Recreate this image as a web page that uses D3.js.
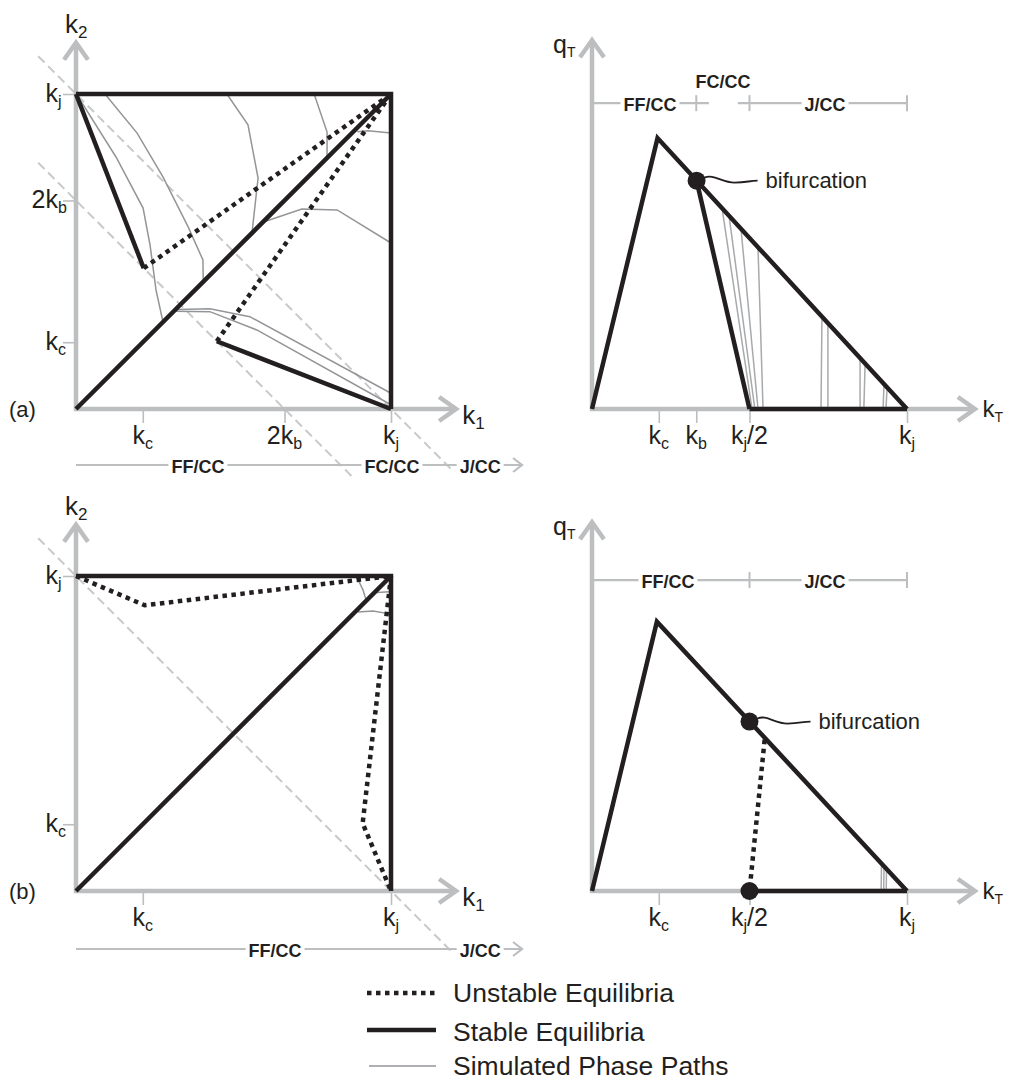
<!DOCTYPE html>
<html lang="en">
<head>
<meta charset="utf-8">
<title>Equilibria of a two-cell network</title>
<script src="https://cdn.jsdelivr.net/npm/d3@7/dist/d3.min.js"></script>
<style>
  html, body { margin: 0; padding: 0; background: #fff; }
  svg { display: block; }
  text { font-family: "Liberation Sans", Arial, Helvetica, sans-serif; fill: #231f20; }
</style>
</head>
<body>
<svg id="fig" width="1010" height="1081" viewBox="0 0 1010 1081"></svg>
<script>
// ---- characteristic densities (jam density normalised to 1) ----
const KJ = 1;
const KC = 0.212;
const KB = 0.331;

// ---- (a) cell densities k1 / k2 ----
const aBox = [[0, 1], [1, 1], [1, 0]];
const aDiagonal = [[0, 0], [1, 1]];
const aStable = [[[0, 1], [0.215, 0.447]], [[1, 0], [0.447, 0.215]]];
const aUnstable = [[[0.215, 0.447], [1, 1]], [[0.447, 0.215], [1, 1]]];
const aIsoDensity = [[[-0.12, 1.12], [1.2, -0.2]], [[-0.12, 0.782], [0.88, -0.218]]];
const aPhasePaths = [
  [[0.092, 1.0], [0.194, 0.876], [0.276, 0.737], [0.356, 0.578], [0.403, 0.473], [0.404, 0.404]],
  [[0.003, 0.997], [0.127, 0.8], [0.213, 0.638], [0.235, 0.521], [0.254, 0.378], [0.276, 0.277]],
  [[0.479, 1.0], [0.546, 0.902], [0.578, 0.733], [0.559, 0.562]],
  [[0.756, 1.0], [0.797, 0.879], [0.797, 0.797]],
  [[1.0, 0.876], [0.927, 0.883], [0.893, 0.88]],
  [[1.0, 0.527], [0.829, 0.632], [0.717, 0.635], [0.6, 0.595]],
  [[1.0, 0.05], [0.552, 0.293], [0.425, 0.318], [0.322, 0.316]],
  [[0.997, 0.015], [0.574, 0.251], [0.425, 0.309], [0.315, 0.31]]
];
const aK1Ticks = [KC, 2 * KB, KJ];
const aK1Labels = ["k_c", "2k_b", "k_j"];
const aK2Ticks = [KJ, 2 * KB, KC];
const aK2Labels = ["k_j", "2k_b", "k_c"];
const aPlaneRegimes = ["FF/CC", "FC/CC", "J/CC"];
const aPlaneRegimeAt = [0.387, 1.003, 1.283];

// ---- (a) total density kT / total flow qT ----
const aFundamental = [[0, 0], [0.208, 0.86], [1, 0]];
const aSecondBranch = [[0.332, 0.725], [0.5, 0]];
const aJamBranch = [[0.5, 0], [1, 0]];
const aBifurcation = [0.332, 0.725];
const aTrajectories = [
  [[0.413, 0.637], [0.508, 0]],
  [[0.435, 0.614], [0.517, 0]],
  [[0.473, 0.572], [0.527, 0]],
  [[0.527, 0.514], [0.543, 0]],
  [[0.730, 0.293], [0.727, 0]],
  [[0.749, 0.273], [0.749, 0]],
  [[0.851, 0.160], [0.851, 0]],
  [[0.867, 0.144], [0.863, 0]],
  [[0.927, 0.079], [0.924, 0]],
  [[0.937, 0.068], [0.933, 0]]
];
const aKTTicks = [KC, KB, KJ / 2, KJ];
const aKTLabels = ["k_c", "k_b", "k_j/2", "k_j"];
const aTotalRegimes = ["FF/CC", "FC/CC", "J/CC"];
const aTotalRegimeAt = [0.184, 0.416, 0.74];
const aTotalBounds = [KB, KJ / 2, KJ];

// ---- (b) cell densities k1 / k2 ----
const bBox = [[0, 1], [1, 1], [1, 0]];
const bDiagonal = [[0, 0], [1, 1]];
const bUnstable = [[[0, 1], [0.218, 0.907], [1, 1]], [[1, 1], [0.91, 0.215], [1, 0]]];
const bIsoDensity = [[[-0.12, 1.12], [1.2, -0.2]]];
const bPhasePaths = [
  [[0.89, 1.0], [0.911, 0.956], [0.921, 0.924]],
  [[1.0, 0.879], [0.943, 0.889], [0.895, 0.886]],
  [[0.995, 0.95], [0.955, 0.948]]
];
const bK1Ticks = [KC, KJ];
const bK1Labels = ["k_c", "k_j"];
const bK2Ticks = [KJ, KC];
const bK2Labels = ["k_j", "k_c"];
const bPlaneRegimes = ["FF/CC", "J/CC"];
const bPlaneRegimeAt = [0.632, 1.283];

// ---- (b) total density kT / total flow qT ----
const bFundamental = [[0, 0], [0.206, 0.855], [1, 0]];
const bUnstableBranch = [[0.548, 0.48], [0.5, 0]];
const bJamBranch = [[0.5, 0], [1, 0]];
const bBifurcation = [0.5, 0.538];
const bJamPoint = [0.5, 0];
const bTrajectories = [
  [[0.919, 0.087], [0.918, 0]],
  [[0.927, 0.079], [0.926, 0]],
  [[0.935, 0.070], [0.934, 0]]
];
const bKTTicks = [KC, KJ / 2, KJ];
const bKTLabels = ["k_c", "k_j/2", "k_j"];
const bTotalRegimes = ["FF/CC", "J/CC"];
const bTotalRegimeAt = [0.241, 0.74];
const bTotalBounds = [KJ / 2, KJ];

const legendLabels = ["Unstable Equilibria", "Stable Equilibria", "Simulated Phase Paths"];
const bifurcationLabel = "bifurcation";

// ---- drawing ----
const svg = d3.select("#fig");
const INK = "#231f20", AXIS = "#bcbec0", DASH = "#c8c9cb", PATHG = "#939598", TRAJ = "#a7a9ac";
const UNIT = 315;
const THICK = 4.5;
const DOTS = "4.5 4.5";

function panel(ox, oy) {
  const x = d3.scaleLinear().domain([0, 1]).range([ox, ox + UNIT]);
  const y = d3.scaleLinear().domain([0, 1]).range([oy, oy - UNIT]);
  const g = svg.append("g");
  const path = d3.line().x(d => x(d[0])).y(d => y(d[1]));
  return { x, y, g, path };
}

function textWidth(str, size) {
  const t = svg.append("text").attr("font-size", size).text(str);
  const w = t.node().getComputedTextLength();
  t.remove();
  return w;
}

// text with single-character subscripts written as "_x"
function richText(g, str, x, y, size, subSize, subDy, anchor) {
  const t = g.append("text").attr("x", x).attr("y", y)
    .attr("font-size", size).attr("text-anchor", anchor || "start");
  const parts = [];
  for (let i = 0; i < str.length;) {
    if (str[i] === "_") { parts.push({ s: str[i + 1], sub: true }); i += 2; }
    else {
      let j = i;
      while (j < str.length && str[j] !== "_") j++;
      parts.push({ s: str.slice(i, j), sub: false });
      i = j;
    }
  }
  let low = false;
  parts.forEach(p => {
    const ts = t.append("tspan").text(p.s);
    if (p.sub) { ts.attr("font-size", subSize); if (!low) ts.attr("dy", subDy); low = true; }
    else if (low) { ts.attr("dy", -subDy); low = false; }
  });
  return t;
}

function stroke(sel, color, width, dash) {
  sel.attr("fill", "none").attr("stroke", color).attr("stroke-width", width)
    .attr("stroke-linejoin", "miter").attr("stroke-miterlimit", 10);
  if (dash) sel.attr("stroke-dasharray", dash);
  return sel;
}

function axes(P, xMax, yMax) {
  const x0 = P.x(0), y0 = P.y(0), xt = P.x(xMax), yt = P.y(yMax);
  stroke(P.g.append("path").attr("d", `M${x0},${yt + 3}V${y0}H${xt - 3}`), AXIS, THICK);
  stroke(P.g.append("path").attr("d", `M${x0 - 12},${yt + 19}L${x0},${yt + 2}L${x0 + 12},${yt + 19}`), AXIS, THICK);
  stroke(P.g.append("path").attr("d", `M${xt - 19},${y0 - 12}L${xt - 2},${y0}L${xt - 19},${y0 + 12}`), AXIS, THICK);
}

function ticksBottom(P, vals, labels) {
  const ax = d3.axisBottom(P.x).tickValues(vals).tickSize(14).tickSizeOuter(0).tickFormat(() => "");
  const ga = P.g.append("g").attr("transform", `translate(0,${P.y(0)})`).call(ax);
  ga.select(".domain").remove();
  ga.selectAll(".tick line").attr("stroke", AXIS).attr("stroke-width", 1.6);
  vals.forEach((v, i) => richText(P.g, labels[i], P.x(v), P.y(0) + 35, 25, 16, 5, "middle"));
}

function ticksLeft(P, vals, labels) {
  const ax = d3.axisLeft(P.y).tickValues(vals).tickSize(13).tickSizeOuter(0).tickFormat(() => "");
  const ga = P.g.append("g").attr("transform", `translate(${P.x(0)},0)`).call(ax);
  ga.select(".domain").remove();
  ga.selectAll(".tick line").attr("stroke", AXIS).attr("stroke-width", 1.6);
  vals.forEach((v, i) => {
    const main = labels[i].split("_")[0];
    const w = textWidth(main, 25);
    richText(P.g, labels[i], P.x(0) - 18 - w, P.y(v) + 8, 25, 16, 5, "start");
  });
}

function whiteBehind(g, t, pad) {
  const b = t.node().getBBox();
  g.insert("rect", () => t.node()).attr("x", b.x - pad).attr("y", b.y)
    .attr("width", b.width + 2 * pad).attr("height", b.height).attr("fill", "#fff");
}

// regime bar under a k1-k2 plane, ending in an arrow
function planeRegimes(P, yPix, names, at, xEnd) {
  const g = P.g, x0 = P.x(0), xe = P.x(xEnd);
  stroke(g.append("path").attr("d", `M${x0},${yPix}H${xe - 1}`), AXIS, 2.2);
  stroke(g.append("path").attr("d", `M${xe - 9},${yPix - 7}L${xe},${yPix}L${xe - 9},${yPix + 7}`), AXIS, 2.2);
  names.forEach((n, i) => {
    const t = g.append("text").attr("x", P.x(at[i])).attr("y", yPix + 8)
      .attr("font-size", 18).attr("font-weight", "bold").attr("text-anchor", "middle").text(n);
    whiteBehind(g, t, 3);
  });
}

// regime bar above a flow-density diagram
function totalRegimes(P, qLevel, segs, bounds, names, at, aboveIdx) {
  const g = P.g, yy = P.y(qLevel);
  segs.forEach(s => stroke(g.append("path").attr("d", `M${P.x(s[0])},${yy}H${P.x(s[1])}`), AXIS, 2.2));
  bounds.forEach(b => stroke(g.append("path").attr("d", `M${P.x(b)},${yy - 8}V${yy + 8}`), AXIS, 2));
  names.forEach((n, i) => {
    const above = i === aboveIdx;
    const t = g.append("text").attr("x", P.x(at[i])).attr("y", above ? yy - 15 : yy + 8)
      .attr("font-size", 18).attr("font-weight", "bold").attr("text-anchor", "middle").text(n);
    if (!above) whiteBehind(g, t, 3);
  });
}

function bifurcation(P, pt) {
  const cx = P.x(pt[0]), cy = P.y(pt[1]);
  P.g.append("circle").attr("cx", cx).attr("cy", cy).attr("r", 9).attr("fill", INK);
  stroke(P.g.append("path").attr("d",
    `M${cx + 8},${cy - 3}C${cx + 17},${cy - 7} ${cx + 25},${cy + 2} ${cx + 38},${cy + 2}S${cx + 52},${cy} ${cx + 61},${cy}`), INK, 1.8);
  P.g.append("text").attr("x", cx + 69).attr("y", cy + 7).attr("font-size", 22).text(bifurcationLabel);
}

function planePanel(P, d) {
  d.iso.forEach(l => stroke(P.g.append("path").attr("d", P.path(l)), DASH, 2, "9 5"));
  axes(P, 1.213, 1.169);
  ticksBottom(P, d.k1Ticks, d.k1Labels);
  ticksLeft(P, d.k2Ticks, d.k2Labels);
  d.paths.forEach(l => stroke(P.g.append("path").attr("d", P.path(l)), PATHG, 1.5));
  stroke(P.g.append("path").attr("d", P.path(d.box)), INK, THICK);
  stroke(P.g.append("path").attr("d", P.path(d.diagonal)), INK, THICK);
  (d.stable || []).forEach(l => stroke(P.g.append("path").attr("d", P.path(l)), INK, THICK));
  d.unstable.forEach(l => stroke(P.g.append("path").attr("d", P.path(l)), INK, THICK, DOTS));
  richText(P.g, "k_2", P.x(0) - 11, P.y(1) - 61, 26, 17, 5, "start");
  richText(P.g, "k_1", P.x(1.226), P.y(0) + 15, 26, 17, 5, "start");
  P.g.append("text").attr("x", 9).attr("y", P.y(0) + 8).attr("font-size", 22).text(d.tag);
}

function totalAxes(P, ticks, labels) {
  axes(P, 1.222, 1.177);
  ticksBottom(P, ticks, labels);
  richText(P.g, "q_T", P.x(0) - 39, P.y(0) - 356, 25, 14, 4, "start");
  richText(P.g, "k_T", P.x(1.24), P.y(0) + 8, 24, 14, 5, "start");
}

// (a) left
const PaL = panel(76, 409);
planePanel(PaL, { iso: aIsoDensity, k1Ticks: aK1Ticks, k1Labels: aK1Labels, k2Ticks: aK2Ticks, k2Labels: aK2Labels,
  paths: aPhasePaths, box: aBox, diagonal: aDiagonal, stable: aStable, unstable: aUnstable, tag: "(a)" });
planeRegimes(PaL, 465, aPlaneRegimes, aPlaneRegimeAt, 1.416);

// (b) left
const PbL = panel(76, 891);
planePanel(PbL, { iso: bIsoDensity, k1Ticks: bK1Ticks, k1Labels: bK1Labels, k2Ticks: bK2Ticks, k2Labels: bK2Labels,
  paths: bPhasePaths, box: bBox, diagonal: bDiagonal, unstable: bUnstable, tag: "(b)" });
planeRegimes(PbL, 949, bPlaneRegimes, bPlaneRegimeAt, 1.416);

// (a) right
const PaR = panel(592, 409);
totalAxes(PaR, aKTTicks, aKTLabels);
totalRegimes(PaR, 0.971, [[0, 0.371], [0.463, 1]], aTotalBounds, aTotalRegimes, aTotalRegimeAt, 1);
aTrajectories.forEach(l => stroke(PaR.g.append("path").attr("d", PaR.path(l)), TRAJ, 1.5));
stroke(PaR.g.append("path").attr("d", PaR.path(aFundamental)), INK, THICK);
stroke(PaR.g.append("path").attr("d", PaR.path(aSecondBranch)), INK, THICK);
stroke(PaR.g.append("path").attr("d", PaR.path(aJamBranch)), INK, THICK);
bifurcation(PaR, aBifurcation);

// (b) right
const PbR = panel(592, 891);
totalAxes(PbR, bKTTicks, bKTLabels);
totalRegimes(PbR, 0.987, [[0, 1]], bTotalBounds, bTotalRegimes, bTotalRegimeAt, -1);
bTrajectories.forEach(l => stroke(PbR.g.append("path").attr("d", PbR.path(l)), TRAJ, 1.5));
stroke(PbR.g.append("path").attr("d", PbR.path(bFundamental)), INK, THICK);
stroke(PbR.g.append("path").attr("d", PbR.path(bJamBranch)), INK, THICK);
stroke(PbR.g.append("path").attr("d", PbR.path(bUnstableBranch)), INK, THICK, DOTS);
PbR.g.append("circle").attr("cx", PbR.x(bJamPoint[0])).attr("cy", PbR.y(bJamPoint[1])).attr("r", 9).attr("fill", INK);
bifurcation(PbR, bBifurcation);

// legend
const legend = svg.append("g");
const legendRows = [
  { line: 993, base: 1002, color: INK, width: THICK, dash: DOTS, x0: 367 },
  { line: 1030, base: 1041, color: INK, width: THICK, dash: null, x0: 367 },
  { line: 1066, base: 1075, color: PATHG, width: 1.6, dash: null, x0: 369 }
];
legendLabels.forEach((lab, i) => {
  const r = legendRows[i];
  stroke(legend.append("path").attr("d", `M${r.x0},${r.line}H436`), r.color, r.width, r.dash);
  legend.append("text").attr("x", 453).attr("y", r.base).attr("font-size", 26.5).text(lab);
});
</script>
</body>
</html>
